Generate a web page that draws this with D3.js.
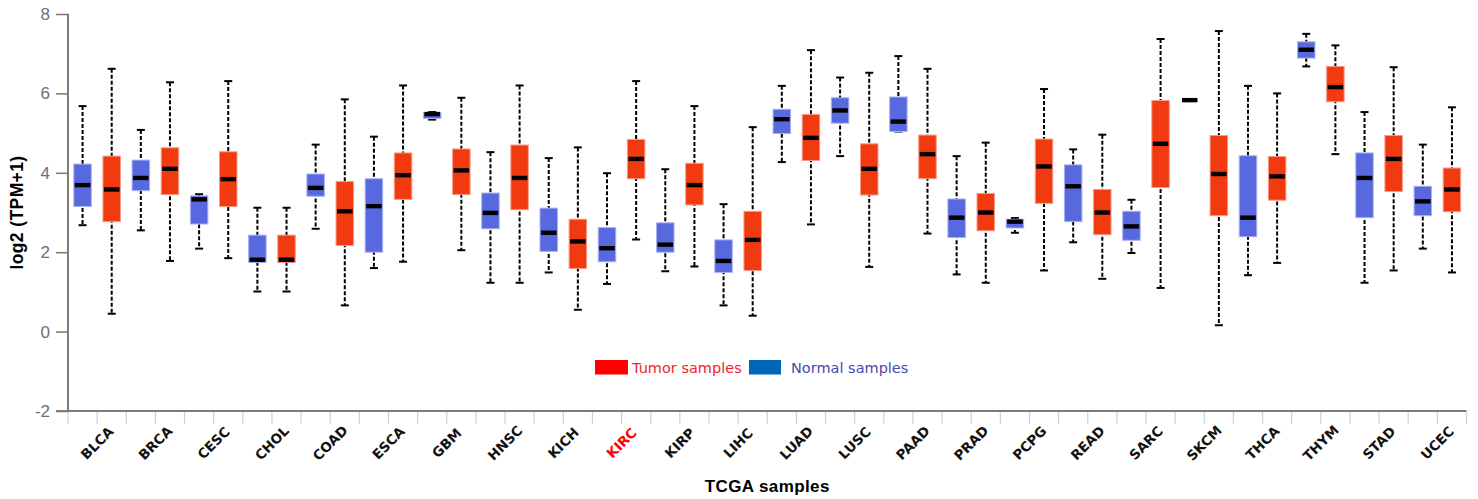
<!DOCTYPE html>
<html>
<head>
<meta charset="utf-8">
<script src="https://cdn.jsdelivr.net/npm/d3@7"></script>
<style>
  body { margin: 0; background: #fff; }
  svg { display: block; }
</style>
</head>
<body>
<div id="chart"></div>
<script>
// data: [lower whisker, q1, median, q3, upper whisker]
const categories = ["BLCA","BRCA","CESC","CHOL","COAD","ESCA","GBM","HNSC","KICH","KIRC","KIRP","LIHC",
  "LUAD","LUSC","PAAD","PRAD","PCPG","READ","SARC","SKCM","THCA","THYM","STAD","UCEC"];

const normalStats = [
  [2.68, 3.15, 3.69, 4.22, 5.68],
  [2.55, 3.55, 3.87, 4.32, 5.08],
  [2.09, 2.71, 3.33, 3.42, 3.46],
  [1.01, 1.74, 1.81, 2.43, 3.12],
  [2.59, 3.41, 3.62, 3.97, 4.71],
  [1.60, 2.00, 3.16, 3.85, 4.91],
  [5.34, 5.37, 5.48, 5.52, 5.53],
  [1.23, 2.59, 2.99, 3.49, 4.52],
  [1.49, 2.02, 2.49, 3.11, 4.37],
  [1.20, 1.76, 2.10, 2.62, 3.99],
  [1.52, 2.00, 2.19, 2.74, 4.09],
  [0.66, 1.49, 1.78, 2.31, 3.21],
  [4.27, 4.99, 5.35, 5.60, 6.19],
  [4.42, 5.25, 5.57, 5.89, 6.40],
  [5.04, 5.04, 5.29, 5.91, 6.94],
  [1.44, 2.37, 2.87, 3.34, 4.42],
  [2.49, 2.61, 2.77, 2.83, 2.86],
  [2.25, 2.77, 3.66, 4.20, 4.59],
  [1.98, 2.30, 2.65, 3.03, 3.32],
  [5.83, 5.83, 5.83, 5.83, 5.83],
  [1.42, 2.39, 2.87, 4.43, 6.19],
  [6.68, 6.89, 7.10, 7.30, 7.50],
  [1.23, 2.87, 3.87, 4.50, 5.53],
  [2.09, 2.92, 3.28, 3.66, 4.71]
];

const tumorStats = [
  [0.45, 2.77, 3.58, 4.42, 6.62],
  [1.78, 3.45, 4.10, 4.63, 6.28],
  [1.85, 3.15, 3.84, 4.53, 6.31],
  [1.01, 1.74, 1.81, 2.43, 3.12],
  [0.66, 2.17, 3.03, 3.78, 5.85],
  [1.76, 3.33, 3.94, 4.50, 6.20],
  [2.05, 3.45, 4.06, 4.60, 5.89],
  [1.23, 3.07, 3.87, 4.70, 6.20],
  [0.55, 1.59, 2.27, 2.83, 4.64],
  [2.32, 3.85, 4.35, 4.84, 6.31],
  [1.64, 3.19, 3.69, 4.24, 5.68],
  [0.40, 1.54, 2.31, 3.03, 5.15],
  [2.70, 4.31, 4.88, 5.47, 7.09],
  [1.63, 3.44, 4.10, 4.73, 6.52],
  [2.47, 3.85, 4.47, 4.95, 6.62],
  [1.23, 2.54, 3.00, 3.48, 4.76],
  [1.54, 3.23, 4.16, 4.85, 6.11],
  [1.33, 2.44, 3.00, 3.58, 4.96],
  [1.10, 3.63, 4.73, 5.82, 7.37],
  [0.16, 2.92, 3.97, 4.94, 7.57],
  [1.73, 3.31, 3.91, 4.41, 6.00],
  [4.47, 5.79, 6.16, 6.68, 7.21],
  [1.54, 3.53, 4.35, 4.94, 6.66],
  [1.49, 3.02, 3.58, 4.12, 5.65]
];

const yTicks = [-2, 0, 2, 4, 6, 8];
const highlighted = "KIRC";

const W = 1478, H = 499;
const plotLeft = 68, plotRight = 1466.5, plotTop = 14, plotBottom = 411;

const svg = d3.select("#chart").append("svg")
  .attr("width", W).attr("height", H);

const x = d3.scaleBand().domain(categories).range([plotLeft, plotRight]);
const y = d3.scaleLinear().domain([-2, 8]).range([plotBottom, plotTop]);
const bw = x.bandwidth();
const boxW = 17.5, medW = 15.5, capW = 8;

// axes
svg.append("line")
  .attr("x1", plotLeft).attr("x2", plotLeft).attr("y1", y(8)).attr("y2", y(-2))
  .attr("stroke", "#222").attr("stroke-width", 1.2);

const yAxis = svg.append("g").attr("transform", `translate(${plotLeft},0)`)
  .call(d3.axisLeft(y).tickValues(yTicks).tickSize(12).tickPadding(6).tickFormat(d => String(d)));
yAxis.select(".domain").remove();
yAxis.selectAll(".tick line").attr("stroke", "#777").attr("stroke-width", 1.5);
yAxis.selectAll(".tick text")
  .attr("fill", "#6a6f78")
  .style("font-family", "'Liberation Sans', Arial, sans-serif")
  .style("font-size", "17px");

// x separators (category edges + centres)
const sepTicks = [];
categories.forEach(c => { sepTicks.push(x(c)); sepTicks.push(x(c) + bw / 2); });
sepTicks.push(plotRight);
svg.append("g").selectAll("line").data(sepTicks).enter().append("line")
  .attr("x1", d => d).attr("x2", d => d)
  .attr("y1", plotBottom + 1).attr("y2", plotBottom + 13)
  .attr("stroke", "#c4d3e3").attr("stroke-width", 1.2);

svg.append("line")
  .attr("x1", plotLeft - 12).attr("x2", plotRight).attr("y1", plotBottom).attr("y2", plotBottom)
  .attr("stroke", "#7a7a7a").attr("stroke-width", 2);

svg.append("g").selectAll("text").data(categories).enter().append("text")
  .attr("transform", d => `translate(${x(d) + bw / 2},443) rotate(-45)`)
  .attr("text-anchor", "middle")
  .attr("dy", "0.35em")
  .attr("fill", d => d === highlighted ? "#ff0000" : "#111")
  .style("font-family", "'DejaVu Sans', Verdana, sans-serif")
  .style("font-weight", "bold")
  .style("font-size", "13.5px")
  .text(d => d);

// boxes
function drawBoxes(stats, offset, fill, edge) {
  const g = svg.append("g");
  const items = stats.map((s, i) => ({ cat: categories[i], s, cx: x(categories[i]) + bw * offset }));

  g.selectAll(".whisker").data(items).enter().append("line")
    .attr("x1", d => d.cx).attr("x2", d => d.cx)
    .attr("y1", d => y(d.s[4])).attr("y2", d => y(d.s[0]))
    .attr("stroke", "#000").attr("stroke-width", 2)
    .attr("stroke-dasharray", "4,2");

  g.selectAll(".capHi").data(items).enter().append("line")
    .attr("x1", d => d.cx - capW / 2).attr("x2", d => d.cx + capW / 2)
    .attr("y1", d => y(d.s[4])).attr("y2", d => y(d.s[4]))
    .attr("stroke", "#000").attr("stroke-width", 2);
  g.selectAll(".capLo").data(items).enter().append("line")
    .attr("x1", d => d.cx - capW / 2).attr("x2", d => d.cx + capW / 2)
    .attr("y1", d => y(d.s[0])).attr("y2", d => y(d.s[0]))
    .attr("stroke", "#000").attr("stroke-width", 2);

  g.selectAll(".box").data(items).enter().append("rect")
    .attr("x", d => d.cx - boxW / 2)
    .attr("y", d => y(d.s[3]))
    .attr("width", boxW)
    .attr("height", d => y(d.s[1]) - y(d.s[3]))
    .attr("fill", fill).attr("stroke", edge).attr("stroke-width", 1);

  g.selectAll(".median").data(items).enter().append("rect")
    .attr("x", d => d.cx - medW / 2)
    .attr("y", d => y(d.s[2]) - 2.2)
    .attr("width", medW).attr("height", 4.4)
    .attr("fill", "#000");
}

drawBoxes(normalStats, 0.25, "#5869e0", "#a9b1f2");
drawBoxes(tumorStats, 0.75, "#f23a10", "#f99a88");

// legend
const legend = svg.append("g").style("font-family", "'DejaVu Sans', Tahoma, sans-serif").style("font-size", "14.5px");
legend.append("rect").attr("x", 595).attr("y", 360).attr("width", 33).attr("height", 14.5).attr("fill", "#ff0000");
legend.append("text").attr("x", 632).attr("y", 373).attr("fill", "#f5222d").text("Tumor samples");
legend.append("rect").attr("x", 749).attr("y", 360).attr("width", 32).attr("height", 14.5).attr("fill", "#0066b8");
legend.append("text").attr("x", 791).attr("y", 373).attr("fill", "#4848b0").text("Normal samples");

// axis titles
svg.append("text")
  .attr("x", (plotLeft + plotRight) / 2).attr("y", 492)
  .attr("text-anchor", "middle")
  .style("font-family", "'Liberation Sans', Arial, sans-serif")
  .style("font-weight", "bold").style("font-size", "17px")
  .style("letter-spacing", "0.4px")
  .text("TCGA samples");

svg.append("text")
  .attr("transform", `translate(23,${(plotTop + plotBottom) / 2}) rotate(-90)`)
  .attr("text-anchor", "middle")
  .style("font-family", "'Liberation Sans', Arial, sans-serif")
  .style("font-weight", "bold").style("font-size", "17.5px")
  .style("letter-spacing", "0.4px")
  .text("log2 (TPM+1)");
</script>
</body>
</html>
